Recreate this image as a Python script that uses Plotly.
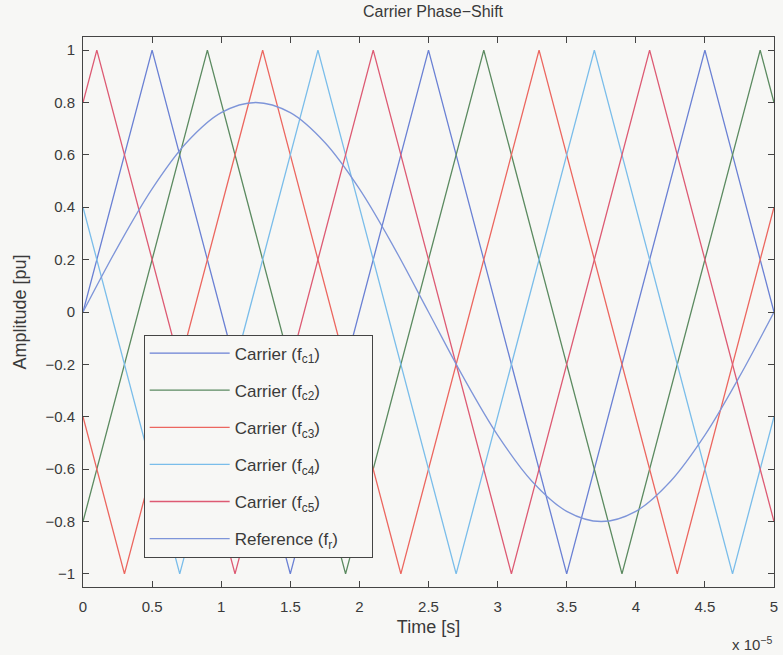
import plotly.graph_objects as go

# ---- data (time in seconds) ----
c1_t = [0.0, 0.5e-5, 1.5e-5, 2.5e-5, 3.5e-5, 4.5e-5, 5.0e-5]
c1_y = [0.0, 1, -1, 1, -1, 1, 0.0]
c2_t = [0.0, 0.9e-5, 1.9e-5, 2.9e-5, 3.9e-5, 4.9e-5, 5.0e-5]
c2_y = [-0.8, 1, -1, 1, -1, 1, 0.8]
c3_t = [0.0, 0.3e-5, 1.3e-5, 2.3e-5, 3.3e-5, 4.3e-5, 5.0e-5]
c3_y = [-0.4, -1, 1, -1, 1, -1, 0.4]
c4_t = [0.0, 0.7e-5, 1.7e-5, 2.7e-5, 3.7e-5, 4.7e-5, 5.0e-5]
c4_y = [0.4, -1, 1, -1, 1, -1, -0.4]
c5_t = [0.0, 0.1e-5, 1.1e-5, 2.1e-5, 3.1e-5, 4.1e-5, 5.0e-5]
c5_y = [0.8, 1, -1, 1, -1, 1, -0.8]

ref_t = [0.0, 0.25e-5, 0.5e-5, 0.75e-5, 1.0e-5, 1.25e-5, 1.5e-5, 1.75e-5, 2.0e-5, 2.25e-5,
         2.5e-5, 2.75e-5, 3.0e-5, 3.25e-5, 3.5e-5, 3.75e-5, 4.0e-5, 4.25e-5, 4.5e-5, 4.75e-5, 5.0e-5]
ref_y = [0.0, 0.247, 0.470, 0.647, 0.761, 0.80, 0.761, 0.647, 0.470, 0.247,
         0.0, -0.247, -0.470, -0.647, -0.761, -0.80, -0.761, -0.647, -0.470, -0.247, 0.0]

x_tickvals = [0, 0.5e-5, 1e-5, 1.5e-5, 2e-5, 2.5e-5, 3e-5, 3.5e-5, 4e-5, 4.5e-5, 5e-5]
x_ticktext = ["0", "0.5", "1", "1.5", "2", "2.5", "3", "3.5", "4", "4.5", "5"]
y_tickvals = [-1, -0.8, -0.6, -0.4, -0.2, 0, 0.2, 0.4, 0.6, 0.8, 1]
y_ticktext = ["\u22121", "\u22120.8", "\u22120.6", "\u22120.4", "\u22120.2", "0", "0.2", "0.4", "0.6", "0.8", "1"]

series = [
    ("Carrier (f<sub>c1</sub>)", c1_t, c1_y, "#6a80d4", "linear"),
    ("Carrier (f<sub>c2</sub>)", c2_t, c2_y, "#5b8a60", "linear"),
    ("Carrier (f<sub>c3</sub>)", c3_t, c3_y, "#ec665f", "linear"),
    ("Carrier (f<sub>c4</sub>)", c4_t, c4_y, "#7abdea", "linear"),
    ("Carrier (f<sub>c5</sub>)", c5_t, c5_y, "#dd5a73", "linear"),
    ("Reference (f<sub>r</sub>)" + "\u00a0" * 6, ref_t, ref_y, "#7e95d9", "spline"),
]

fig = go.Figure()
for i, (name, t, y, col, shape) in enumerate(series):
    fig.add_trace(go.Scatter(x=t, y=y, mode="lines", name=name, legendgroup=f"g{i}",
                             line=dict(color=col, width=1.3, shape=shape)))

bg = "#f7f7f5"
txt = "#3a3a3a"
fig.update_layout(
    width=783, height=655,
    margin=dict(l=83, r=5, t=37, b=68),
    paper_bgcolor=bg, plot_bgcolor=bg,
    font=dict(family="Liberation Sans, Arial, sans-serif", size=15, color=txt),
    title=dict(text="Carrier Phase\u2212Shift", x=0.553, xanchor="center", y=0.982, yanchor="middle",
               font=dict(size=16, color=txt)),
    showlegend=True,
    legend=dict(x=0.0878, xanchor="left", y=0.459, yanchor="top",
                bgcolor=bg, bordercolor="#444", borderwidth=1,
                font=dict(size=17, color=txt), tracegroupgap=12, itemwidth=80),
    xaxis=dict(range=[0, 5e-5], tickvals=x_tickvals, ticktext=x_ticktext,
               ticks="inside", ticklen=6, tickcolor="#444", mirror="allticks",
               showline=True, linecolor="#444", linewidth=1, showgrid=False, zeroline=False,
               ticklabelstandoff=6,
               title=dict(text="Time [s]", standoff=6)),
    yaxis=dict(range=[-1.05, 1.05], tickvals=y_tickvals, ticktext=y_ticktext,
               ticks="inside", ticklen=6, tickcolor="#444", mirror="allticks",
               showline=True, linecolor="#444", linewidth=1, showgrid=False, zeroline=False,
               ticklabelstandoff=4,
               title=dict(text="Amplitude [pu]", standoff=14)),
)
fig.add_annotation(text="x 10<sup>\u22125</sup>", xref="paper", yref="paper", x=1.0, y=-0.082,
                   xanchor="right", yanchor="top", showarrow=False, font=dict(size=15, color=txt))

fig.write_html("out.html")
